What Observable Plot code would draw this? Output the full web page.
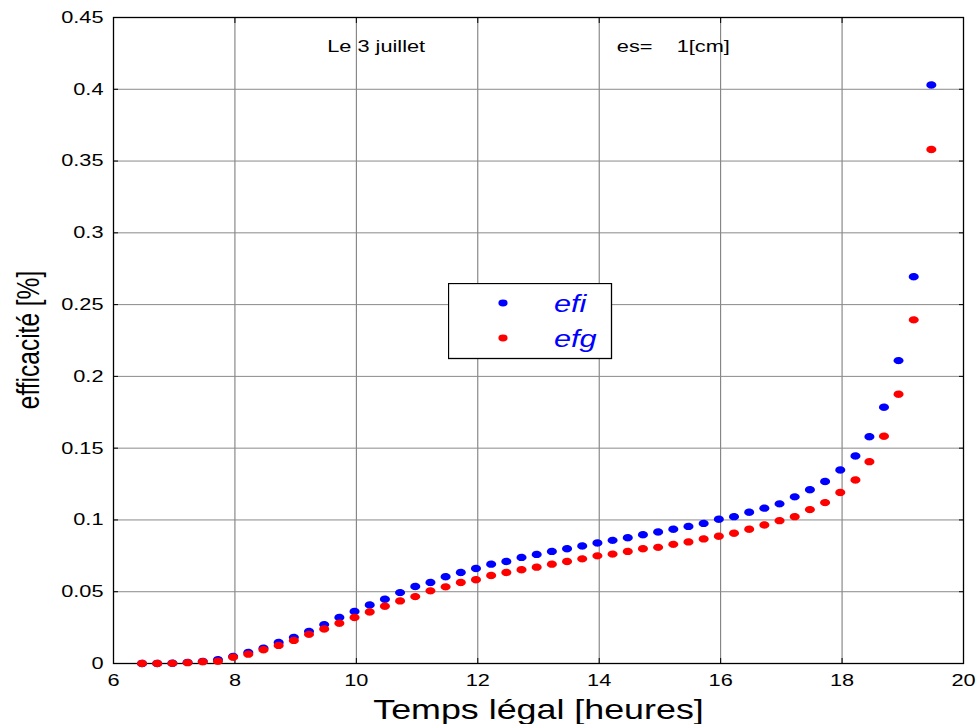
<!DOCTYPE html>
<html>
<head>
<meta charset="utf-8">
<script src="https://cdn.jsdelivr.net/npm/d3@7"></script>
<script src="https://cdn.jsdelivr.net/npm/@observablehq/plot@0.6"></script>
<style>
  html, body { margin: 0; padding: 0; background: #fff; }
  #wrap { position: relative; width: 977px; height: 724px; overflow: hidden; }
  #legend { position: absolute; left: 448px; top: 283px; }
</style>
</head>
<body>
<div id="wrap"></div>
<script>
// Legal time (hours), one sample every quarter hour
const hours = [
  6.47, 6.72, 6.97, 7.22, 7.47, 7.72, 7.97, 8.22, 8.47, 8.72,
  8.97, 9.22, 9.47, 9.72, 9.97, 10.22, 10.47, 10.72, 10.97, 11.22,
  11.47, 11.72, 11.97, 12.22, 12.47, 12.72, 12.97, 13.22, 13.47, 13.72,
  13.97, 14.22, 14.47, 14.72, 14.97, 15.22, 15.47, 15.72, 15.97, 16.22,
  16.47, 16.72, 16.97, 17.22, 17.47, 17.72, 17.97, 18.22, 18.45, 18.69,
  18.93, 19.18, 19.47
];

// Efficiency efi
const efi = [
  0.0000, 0.0000, 0.0002, 0.0008, 0.0015, 0.0026, 0.0050, 0.0077, 0.0107, 0.0147,
  0.0182, 0.0224, 0.0271, 0.0320, 0.0362, 0.0408, 0.0448, 0.0494, 0.0536, 0.0564,
  0.0604, 0.0634, 0.0662, 0.0692, 0.0711, 0.0739, 0.0760, 0.0781, 0.0799, 0.0818,
  0.0839, 0.0858, 0.0876, 0.0897, 0.0916, 0.0935, 0.0955, 0.0976, 0.1005, 0.1023,
  0.1054, 0.1082, 0.1112, 0.1161, 0.1210, 0.1268, 0.1348, 0.1445, 0.1580, 0.1785,
  0.2110, 0.2694, 0.4030
];

// Efficiency efg
const efg = [
  0.0000, 0.0000, 0.0001, 0.0006, 0.0012, 0.0016, 0.0044, 0.0065, 0.0096, 0.0126,
  0.0161, 0.0203, 0.0240, 0.0280, 0.0320, 0.0359, 0.0399, 0.0436, 0.0466, 0.0506,
  0.0534, 0.0564, 0.0583, 0.0613, 0.0634, 0.0653, 0.0671, 0.0692, 0.0711, 0.0729,
  0.0750, 0.0762, 0.0781, 0.0799, 0.0809, 0.0830, 0.0847, 0.0868, 0.0886, 0.0907,
  0.0935, 0.0965, 0.0995, 0.1023, 0.1072, 0.1121, 0.1191, 0.1278, 0.1406, 0.1583,
  0.1876, 0.2394, 0.3580
];

const seriesNames = ["efi", "efg"];
const seriesColors = ["#0000ff", "#ff0000"];
const xTicks = [6, 8, 10, 12, 14, 16, 18, 20];
const yTicks = [0, 0.05, 0.1, 0.15, 0.2, 0.25, 0.3, 0.35, 0.4, 0.45];
const xLabel = "Temps légal [heures]";
const yLabel = "efficacité [%]";
const notes = [
  {text: "Le 3 juillet", x: 9.52, y: 0.426},
  {text: "es=\u00a0\u00a0\u00a0\u00a01[cm]", x: 14.29, y: 0.426}
];

const FONT = "'Liberation Sans', Arial, Helvetica, sans-serif";
const STRETCH = 1.28; // horizontal stretch of the lettering

// Slightly flattened dot marker
const ovalSymbol = {
  draw(ctx, size) {
    const r = Math.sqrt(size / Math.PI);
    const rx = r * 1.18, ry = r * 0.87, k = 0.5523;
    ctx.moveTo(rx, 0);
    ctx.bezierCurveTo(rx, k * ry, k * rx, ry, 0, ry);
    ctx.bezierCurveTo(-k * rx, ry, -rx, k * ry, -rx, 0);
    ctx.bezierCurveTo(-rx, -k * ry, -k * rx, -ry, 0, -ry);
    ctx.bezierCurveTo(k * rx, -ry, rx, -k * ry, rx, 0);
    ctx.closePath();
  }
};

const fmtY = d => String(+d.toFixed(2));
const blank = () => "";

const chart = Plot.plot({
  width: 977,
  height: 724,
  marginLeft: 113,
  marginRight: 14,
  marginTop: 17,
  marginBottom: 61,
  x: {domain: [6, 20]},
  y: {domain: [0, 0.45]},
  style: {fontFamily: FONT, fontSize: "17px", color: "black", background: "white"},
  marks: [
    Plot.gridX(xTicks.slice(1, -1), {stroke: "#737373", strokeOpacity: 1, strokeWidth: 1}),
    Plot.gridY(yTicks.slice(1, -1), {stroke: "#8a8a8a", strokeOpacity: 1, strokeWidth: 1}),
    Plot.frame({stroke: "black", strokeWidth: 1.3}),
    // tick labels
    Plot.axisX(xTicks, {anchor: "bottom", tickSize: 0, tickPadding: 10, fontSize: 17, label: null}),
    Plot.axisY(yTicks, {anchor: "left", tickSize: 0, tickPadding: 10, fontSize: 17, tickFormat: fmtY, label: null}),
    // inward ticks on all four sides
    Plot.axisX(xTicks, {anchor: "bottom", tickSize: -5, tickFormat: blank, label: null}),
    Plot.axisX(xTicks, {anchor: "top", tickSize: -5, tickFormat: blank, label: null}),
    Plot.axisY(yTicks, {anchor: "left", tickSize: -5, tickFormat: blank, label: null}),
    Plot.axisY(yTicks, {anchor: "right", tickSize: -5, tickFormat: blank, label: null}),
    // data
    Plot.dot(efi, {x: (d, i) => hours[i], y: d => d, r: 4.25, symbol: ovalSymbol, fill: seriesColors[0], stroke: "none"}),
    Plot.dot(efg, {x: (d, i) => hours[i], y: d => d, r: 4.25, symbol: ovalSymbol, fill: seriesColors[1], stroke: "none"}),
    // annotations
    Plot.text(notes, {x: "x", y: "y", text: "text", textAnchor: "start", lineAnchor: "bottom", fontSize: 17, fill: "black"}),
    // x-axis title
    Plot.text([xLabel], {frameAnchor: "bottom", dy: 55, lineAnchor: "bottom", fontSize: 28, fill: "black"})
  ]
});

// Widen the lettering around each label's own anchor
d3.select(chart).selectAll("text").each(function () {
  const t = this.getAttribute("transform") || "";
  this.setAttribute("transform", (t + ` scale(${STRETCH},1)`).trim());
});

// y-axis title, rotated, glyphs widened across the page
d3.select(chart).append("text")
  .attr("transform", `translate(39,340) rotate(-90) scale(1,1.25)`)
  .attr("text-anchor", "middle")
  .attr("font-family", FONT).attr("font-size", 24.5)
  .attr("fill", "black")
  .text(yLabel);

document.getElementById("wrap").appendChild(chart);

// Legend box
const lg = d3.select("#wrap").append("svg")
  .attr("id", "legend")
  .attr("width", 166).attr("height", 78);
lg.append("rect")
  .attr("x", 0.5).attr("y", 0.5).attr("width", 163).attr("height", 75)
  .attr("fill", "white").attr("stroke", "black").attr("stroke-width", 1.3);
seriesNames.forEach((name, i) => {
  const cy = 20 + i * 35;
  lg.append("ellipse")
    .attr("cx", 55).attr("cy", cy).attr("rx", 4.6).attr("ry", 3.4)
    .attr("fill", seriesColors[i]);
  lg.append("text")
    .attr("transform", `translate(106,${cy + 9}) scale(${STRETCH},1)`)
    .attr("font-family", FONT).attr("font-size", 24).attr("font-style", "italic")
    .attr("fill", "#0000ff")
    .text(name);
});
</script>
</body>
</html>
